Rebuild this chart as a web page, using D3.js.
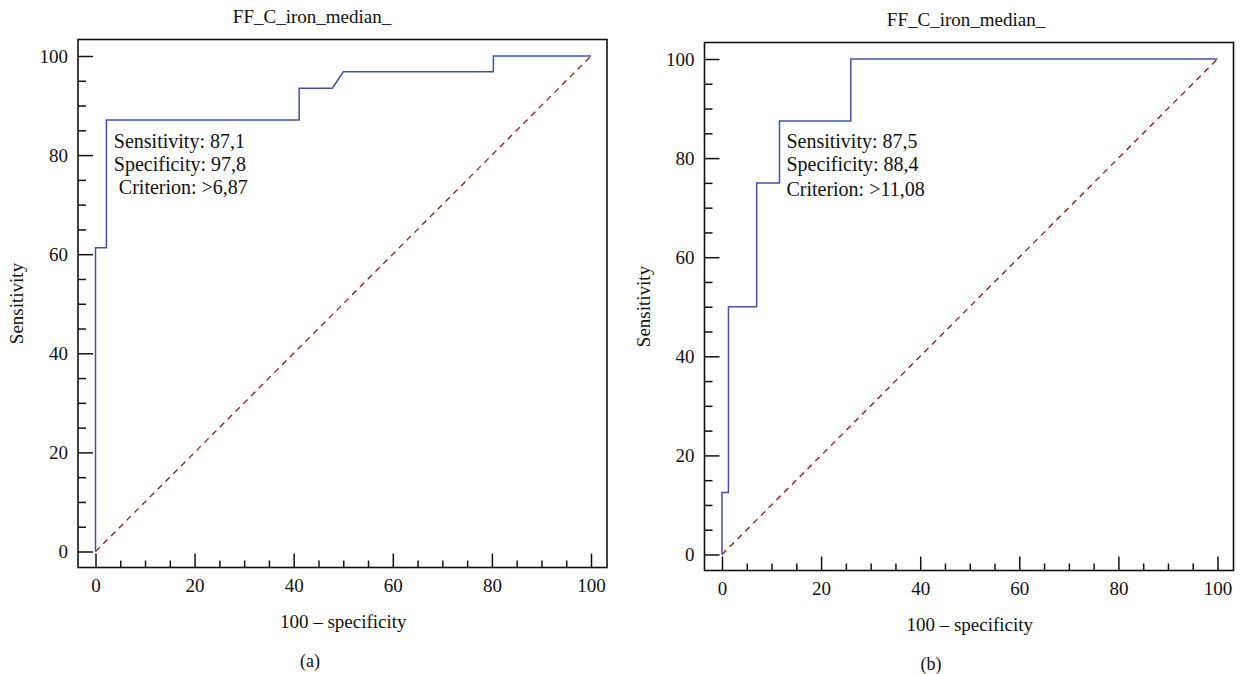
<!DOCTYPE html>
<html>
<head>
<meta charset="utf-8">
<script src="https://cdn.jsdelivr.net/npm/d3@7"></script>
<style>
  body { margin:0; background:#fff; }
  text { font-family:"Liberation Serif", "Times New Roman", serif; fill:#111; }
</style>
</head>
<body>
<div id="Roc"></div>
<script>
// tick values shared by both panels
var majorTicks = [0, 20, 40, 60, 80, 100];
var minorTicks = d3.range(0, 101, 5).filter(function(v){ return v % 20 != 0; });

// panel (a): 100-specificity vs sensitivity
var fprA  = [0, 0,    2.2,  2.2,  41.1, 41.1, 47.8, 50,   80.3, 80.3, 100];
var sensA = [0, 61.3, 61.3, 87.1, 87.1, 93.5, 93.5, 96.8, 96.8, 100,  100];
var notesA = ["Sensitivity: 87,1", "Specificity: 97,8", "\u00a0Criterion: >6,87"];

// panel (b)
var fprB  = [0, 0,    1.3,  1.3, 7,  7,  11.6, 11.6, 26,   26,  100];
var sensB = [0, 12.5, 12.5, 50,  50, 75, 75,   87.5, 87.5, 100, 100];
var notesB = ["Sensitivity: 87,5", "Specificity: 88,4", "Criterion: >11,08"];

var title = ["FF", "_", "C", "_", "iron", "_", "median", "_"];

var svg = d3.select("#Roc").append("svg")
    .attr("width", 1240).attr("height", 674)
    .attr("style", "background:#fff");

function plotChartAt(frame, fpr, sens, notes, noteGap, caption, titleX){
  var g = svg.append("g").attr("transform", "translate(" + frame.x + "," + frame.y + ")");
  var w = frame.w, h = frame.h;

  // data area sits a bit inside the frame
  var xScale = d3.scaleLinear().domain([0, 100]).range([17.5, w - 16]);
  var yScale = d3.scaleLinear().domain([0, 100]).range([h - 16, 16.5]);

  // ticks point inwards from the frame
  g.append("g").attr("class", "yAxis")
      .call(d3.axisLeft(yScale).tickValues(majorTicks).tickSize(-15).tickPadding(10))
      .call(function(a){ a.select(".domain").remove(); });
  g.append("g")
      .call(d3.axisLeft(yScale).tickValues(minorTicks).tickSize(-8).tickFormat(""))
      .call(function(a){ a.select(".domain").remove(); });
  g.append("g").attr("class", "xAxis")
      .attr("transform", "translate(0," + h + ")")
      .call(d3.axisBottom(xScale).tickValues(majorTicks).tickSize(-14).tickPadding(11))
      .call(function(a){ a.select(".domain").remove(); });
  g.append("g")
      .attr("transform", "translate(0," + h + ")")
      .call(d3.axisBottom(xScale).tickValues(minorTicks).tickSize(-7).tickFormat(""))
      .call(function(a){ a.select(".domain").remove(); });

  g.selectAll(".tick line").attr("stroke", "#111").attr("stroke-width", 1.5);
  g.selectAll(".tick text").attr("font-size", 19).attr("font-family", "Liberation Serif").attr("fill", "#111");

  g.append("rect").attr("width", w).attr("height", h)
      .attr("fill", "none").attr("stroke", "#111").attr("stroke-width", 1.6);

  // reference diagonal
  g.append("line")
      .attr("x1", xScale(0)).attr("y1", yScale(0))
      .attr("x2", xScale(100)).attr("y2", yScale(100))
      .attr("stroke", "#8b1a1a").attr("stroke-width", 1.3)
      .attr("stroke-dasharray", "6,5");

  // ROC curve
  g.append("path")
      .datum(d3.range(fpr.length))
      .attr("fill", "none").attr("stroke", "#4252a8").attr("stroke-width", 1.5)
      .attr("d", d3.line()
          .x(function(i){ return xScale(fpr[i]); })
          .y(function(i){ return yScale(sens[i]); }));

  // criterion box text
  var notesG = g.append("text")
      .attr("x", xScale(noteGap.x)).attr("y", yScale(noteGap.y))
      .attr("font-size", 20);
  notes.forEach(function(t, i){
    notesG.append("tspan").attr("x", xScale(noteGap.x))
        .attr("dy", i == 0 ? 0 : noteGap.dy[i - 1]).text(t);
  });

  // titles and labels
  var tt = g.append("text").attr("x", titleX - frame.x).attr("y", -17)
      .attr("text-anchor", "middle").attr("font-size", 19);
  title.forEach(function(t){
    tt.append("tspan").attr("fill", t == "_" ? "#1a2580" : "#111").text(t);
  });

  g.append("text")
      .attr("transform", "translate(" + (-55) + "," + (h / 2) + ") rotate(-90)")
      .attr("text-anchor", "middle").attr("font-size", 19).text("Sensitivity");

  g.append("text").attr("x", (xScale(0) + xScale(100)) / 2).attr("y", h + 60)
      .attr("text-anchor", "middle").attr("font-size", 19).text("100 \u2013 specificity");

  g.append("text").attr("x", caption.x - frame.x).attr("y", h + 99)
      .attr("text-anchor", "middle").attr("font-size", 18).text(caption.t);
}

plotChartAt({x:78, y:39.5, w:529, h:528}, fprA, sensA, notesA,
            {x:3.7, y:81.5, dy:[23.3, 23.3]}, {x:310, t:"(a)"}, 312);
plotChartAt({x:704.5, y:42.5, w:529, h:528}, fprB, sensB, notesB,
            {x:13.0, y:82.1, dy:[23.3, 25.5]}, {x:931, t:"(b)"}, 966);
</script>
</body>
</html>
